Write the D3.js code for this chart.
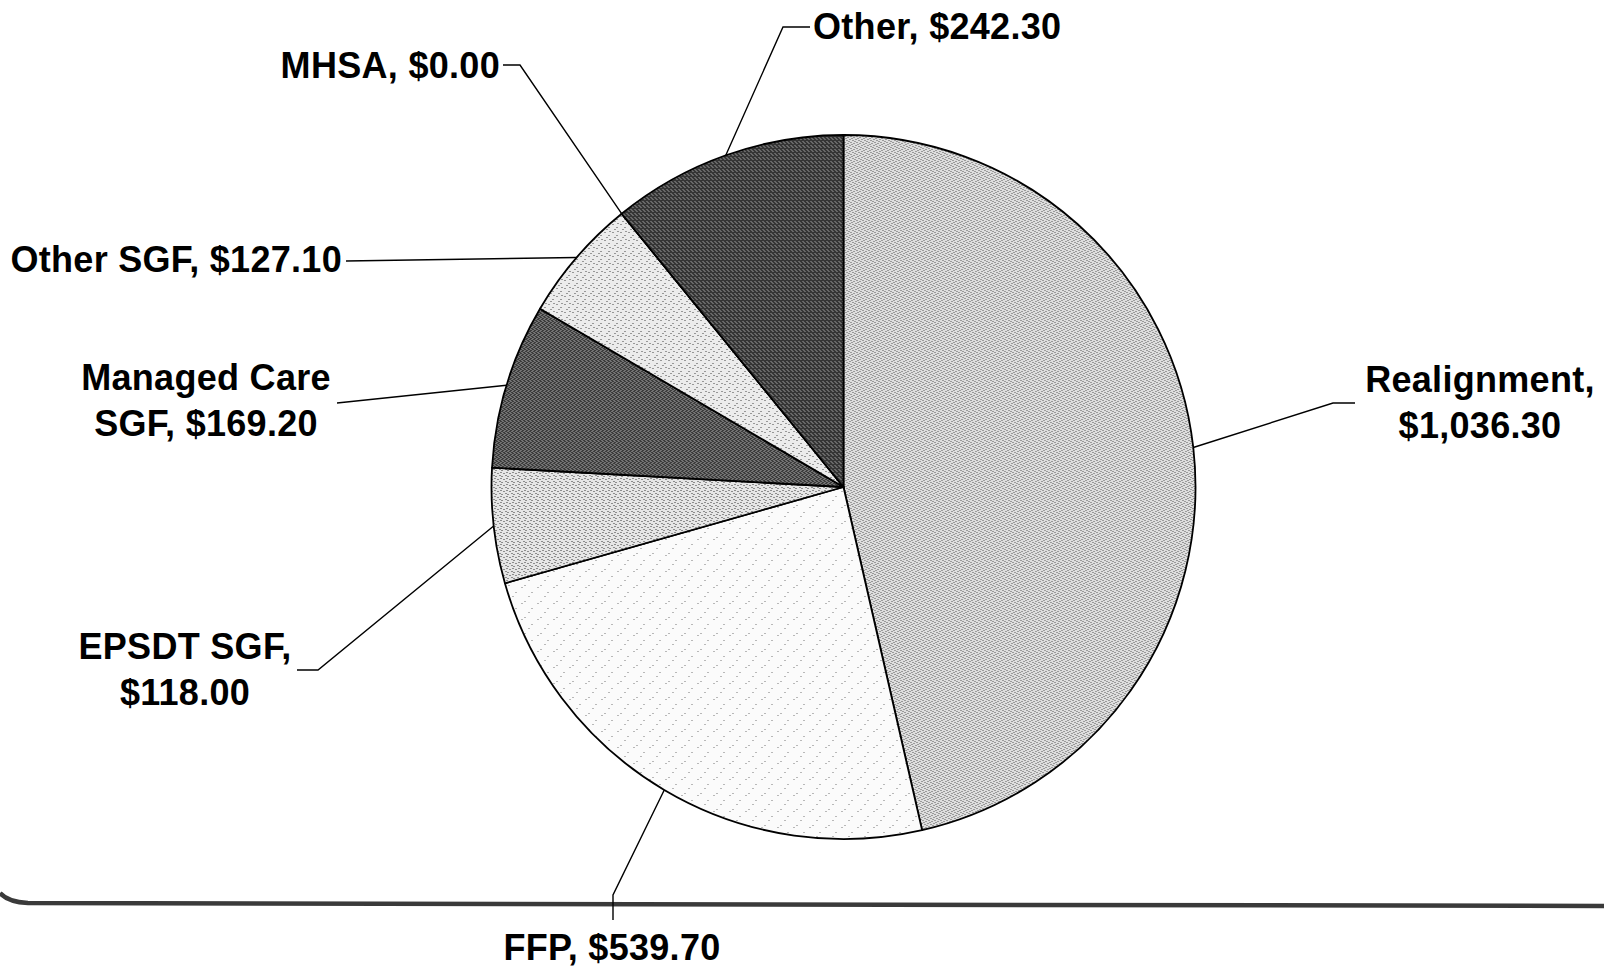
<!DOCTYPE html>
<html>
<head>
<meta charset="utf-8">
<script src="https://cdn.jsdelivr.net/npm/d3@7"></script>
<style>
  body { margin: 0; background: #fff; }
  svg { display: block; }
  .label { font-family: Arial, 'Liberation Sans', sans-serif; font-weight: bold; font-size: 36px; fill: #000; letter-spacing: 0.3px; }
  .leader { fill: none; stroke: #000; stroke-width: 1.4; }
</style>
</head>
<body>
<svg width="1604" height="967"></svg>
<script>
// data
const categories = ['Realignment', 'FFP', 'EPSDT SGF', 'Managed Care SGF', 'Other SGF', 'MHSA', 'Other']
const values = [1036.3, 539.7, 118.0, 169.2, 127.1, 0.0, 242.3]

// styling / label layout, one entry per category
const fills = ['url(#pRealign)', 'url(#pFfp)', 'url(#pEpsdt)', 'url(#pDark1)', 'url(#pOtherSgf)', '#444', 'url(#pDark2)']
const labelLayout = [
  { x: 1480, y: 392, anchor: 'middle', split: 1, path: [[1333, 403], [1355, 403]] },
  { x: 612, y: 960, anchor: 'middle', split: 0, path: [[613, 895], [613, 920]] },
  { x: 185, y: 659, anchor: 'middle', split: 2, path: [[318, 670], [297, 670]] },
  { x: 206, y: 390, anchor: 'middle', split: 2, path: [[337, 403]] },
  { x: 342, y: 272, anchor: 'end', split: 0, path: [[346, 261]] },
  { x: 500, y: 78, anchor: 'end', split: 0, path: [[520, 65], [503, 65]] },
  { x: 813, y: 39, anchor: 'start', split: 0, path: [[783, 27], [810, 27]] }
]

const svg = d3.select('svg')
const cx = 843.5
const cy = 487
const radius = 352
const lineHeight = 46

const money = d3.format('$,.2f')

// dithered textures, like the scanned print
const defs = svg.append('defs')
function makePattern(id, base, dotColor, dots, size) {
  const p = defs.append('pattern')
    .attr('id', id)
    .attr('patternUnits', 'userSpaceOnUse')
    .attr('width', size)
    .attr('height', size)
  p.append('rect').attr('width', size).attr('height', size).attr('fill', base)
  dots.forEach(([x, y]) => {
    p.append('rect').attr('x', x).attr('y', y).attr('width', 1).attr('height', 1).attr('fill', dotColor)
  })
}
makePattern('pRealign', '#dedede', '#555', [[0, 0], [3, 1], [1, 3], [4, 4], [2, 5], [5, 2]], 6)
makePattern('pFfp', '#fbfbfb', '#777', [[1, 2], [8, 9], [14, 4], [5, 13]], 16)
makePattern('pEpsdt', '#e6e6e6', '#333', [[0, 1], [4, 0], [2, 4], [5, 3]], 6)
makePattern('pOtherSgf', '#ececec', '#444', [[1, 1], [5, 4], [3, 6], [6, 0]], 8)
makePattern('pDark1', '#3c3c3c', '#aaa', [[0, 0], [2, 1], [1, 3], [3, 2]], 4)
makePattern('pDark2', '#353535', '#999', [[1, 0], [3, 2], [0, 3]], 4)

const data = categories.map((name, i) => ({
  name,
  value: values[i],
  fill: fills[i],
  layout: labelLayout[i]
}))

const pie = d3.pie()
  .sort(null)
  .value(d => d.value)

const arcs = pie(data)

const arc = d3.arc().innerRadius(0).outerRadius(radius)
const edge = d3.arc().innerRadius(radius).outerRadius(radius)

// bottom slide border
svg.append('path')
  .attr('d', 'M0,893 Q8,902 28,903 L1604,906')
  .attr('fill', 'none')
  .attr('stroke', '#3a3a3a')
  .attr('stroke-width', 4.5)

const g = svg.append('g')
  .attr('transform', `translate(${cx}, ${cy})`)

g.selectAll('.slice')
  .data(arcs)
  .enter()
  .append('path')
  .attr('class', 'slice')
  .attr('d', arc)
  .attr('fill', d => d.data.fill)
  .attr('stroke', '#000')
  .attr('stroke-width', 1.8)
  .attr('stroke-linejoin', 'round')

// leader lines from the middle of each slice edge
svg.selectAll('.leader')
  .data(arcs)
  .enter()
  .append('path')
  .attr('class', 'leader')
  .attr('d', d => {
    const [ex, ey] = edge.centroid(d)
    const pts = [[cx + ex, cy + ey]].concat(d.data.layout.path)
    return d3.line()(pts)
  })

// labels
svg.selectAll('.label')
  .data(arcs)
  .enter()
  .append('text')
  .attr('class', 'label')
  .attr('text-anchor', d => d.data.layout.anchor)
  .each(function(d) {
    const L = d.data.layout
    const words = `${d.data.name}, ${money(d.data.value)}`.split(' ')
    const lines = L.split ? [words.slice(0, L.split).join(' '), words.slice(L.split).join(' ')] : [words.join(' ')]
    const t = d3.select(this)
    lines.forEach((line, i) => {
      t.append('tspan')
        .attr('x', L.x)
        .attr('y', L.y + i * lineHeight)
        .text(line)
    })
  })
</script>
</body>
</html>
